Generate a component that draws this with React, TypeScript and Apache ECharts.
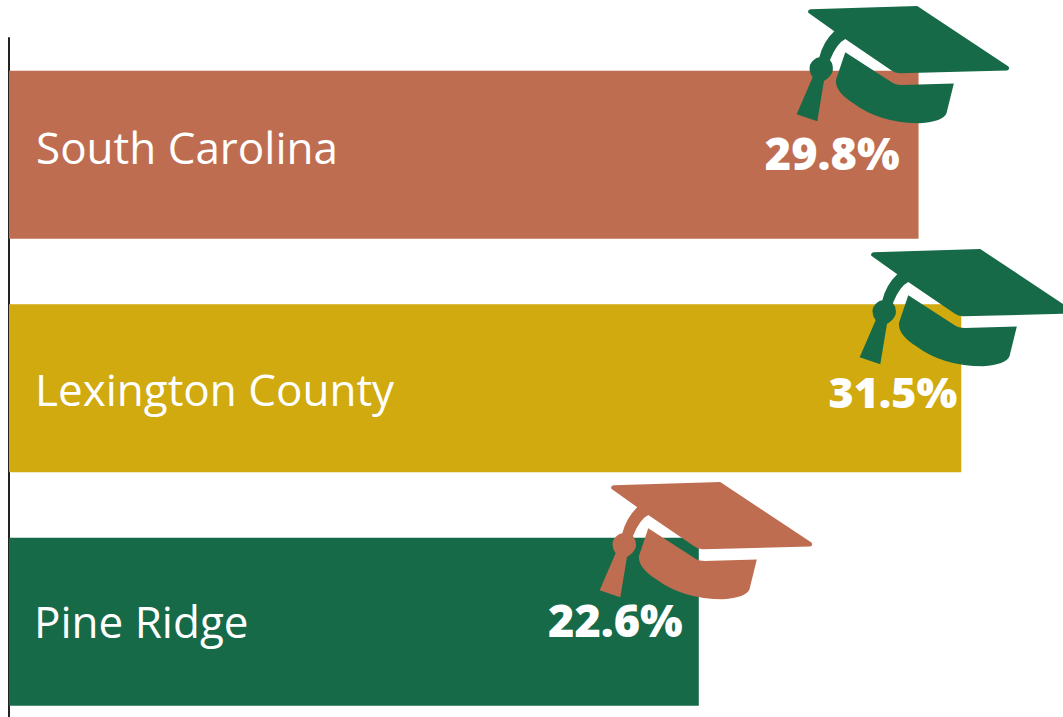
import React, { useEffect, useRef } from "react";
import * as echarts from "echarts";

const categories = ["South Carolina", "Lexington County", "Pine Ridge"];
const barLengths = [29.8, 31.2, 22.6];
const valueLabels = ["29.8%", "31.5%", "22.6%"];
const barColors = ["#BF6D50", "#D0AA0F", "#176A48"];
const capColors = ["#176A48", "#176A48", "#BF6D50"];
const capOffsets = [[780, 0], [843, 243], [583, 476]];
const nameNudges = [[0, -7.5], [-1, 0.5], [-2, -0.5]];
const valueNudges = [[-19, -2], [-4, 3], [-16, -2]];
const valueSizes = [45, 43, 45];

const CAP_D =
  "M85 38 Q82 30 92 28 L412 18 L686 200 Q692 208 682 212 L360 220 Q345 220 335 212 L196 117 Q170 130 150 180 Q162 195 158 215 Q152 232 132 243 L112 364 L50 343 L98 232 Q85 215 90 195 Q100 175 118 172 Q130 125 163 94 Z " +
  "M196 157 L340 250 Q350 255 365 255 L522 251 L500 340 Q490 365 420 370 Q300 370 220 310 Q165 275 168 240 Z";

echarts.graphic.registerShape("gradCap", echarts.graphic.extendPath(CAP_D as any, {}) as any);

export default function App() {
  const ref = useRef<HTMLDivElement>(null);
  useEffect(() => {
    const chart = echarts.init(ref.current!, null, { renderer: "svg" });
    chart.setOption({
      animation: false,
      backgroundColor: "#fff",
      grid: { left: 9, top: 38, width: 1053, height: 700.5, containLabel: false },
      xAxis: { type: "value", min: 0, max: 34.5, show: false },
      yAxis: {
        type: "category",
        inverse: true,
        data: categories,
        axisLine: { show: true, lineStyle: { color: "#222222", width: 2 } },
        axisTick: { show: false },
        axisLabel: { show: false },
      },
      series: [
        {
          type: "bar",
          barWidth: 168,
          data: barLengths.map((v, i) => ({
            value: v,
            itemStyle: { color: barColors[i] },
            label: {
              show: true,
              position: "insideLeft",
              formatter: categories[i],
              distance: 27,
              offset: nameNudges[i],
              color: "#fff",
              fontFamily: "'Open Sans', sans-serif",
              fontWeight: 500,
              fontSize: 44,
            },
          })),
        },
        {
          type: "bar",
          barWidth: 168,
          barGap: "-100%",
          silent: true,
          itemStyle: { color: "transparent" },
          data: barLengths.map((v, i) => ({
            value: v,
            label: {
              show: true,
              position: "insideRight",
              distance: 0,
              formatter: valueLabels[i],
              offset: valueNudges[i],
              color: "#fff",
              fontFamily: "'Open Sans', sans-serif",
              fontWeight: 800,
              fontSize: valueSizes[i],
            },
          })),
        },
      ],
      graphic: capOffsets.map((o, i) => ({
        type: "gradCap",
        x: o[0],
        y: o[1],
        scaleX: 1 / 3,
        scaleY: 1 / 3,
        z: 100,
        style: { fill: capColors[i] },
      })),
    });
    return () => chart.dispose();
  }, []);
  return (
    <div style={{ position: "fixed", left: 0, top: 0, width: 1063, height: 717, overflow: "hidden" }}>
      <div ref={ref} style={{ width: 1063, height: 740 }} />
    </div>
  );
}
